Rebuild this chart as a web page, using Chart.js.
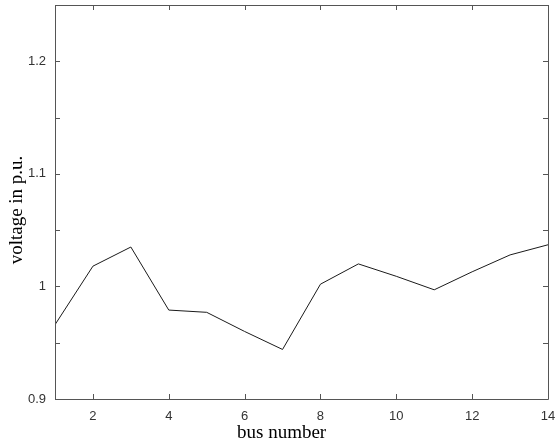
<!DOCTYPE html>
<html>
<head>
<meta charset="utf-8">
<script src="https://cdn.jsdelivr.net/npm/chart.js@4/dist/chart.umd.min.js"></script>
<style>
  html, body { margin: 0; padding: 0; background: #ffffff; }
  #wrap { width: 555px; height: 446px; }
</style>
</head>
<body>
<div id="wrap"><canvas id="voltChart" width="555" height="446"></canvas></div>
<script>
// Data
const busNumbers = [1, 2, 3, 4, 5, 6, 7, 8, 9, 10, 11, 12, 13, 14];
const voltages = [0.966, 1.018, 1.035, 0.979, 0.977, 0.960, 0.944, 1.002, 1.020, 1.009, 0.997, 1.013, 1.028, 1.037];

// Axis ticks
const xTickValues = [2, 4, 6, 8, 10, 12, 14];
const yTickValues = [0.9, 0.95, 1.0, 1.05, 1.1, 1.15, 1.2, 1.25];
const yTickLabels = ['0.9', '', '1', '', '1.1', '', '1.2', ''];

const xTitle = 'bus number';
const yTitle = 'voltage in p.u.';

const frameColor = '#555555';
const tickLen = 5;

// Draws the box, inward tick marks on all four sides and the axis titles
const matlabAxes = {
    id: 'matlabAxes',
    afterDraw(chart) {
        const ctx = chart.ctx;
        const area = chart.chartArea;
        const xs = chart.scales.x;
        const ys = chart.scales.y;
        ctx.save();
        ctx.strokeStyle = frameColor;
        ctx.lineWidth = 1;
        ctx.beginPath();
        ctx.rect(Math.round(area.left) + 0.5, Math.round(area.top) + 0.5,
                 Math.round(area.right - area.left), Math.round(area.bottom - area.top));
        xTickValues.forEach(v => {
            const px = Math.round(xs.getPixelForValue(v)) + 0.5;
            ctx.moveTo(px, area.bottom);
            ctx.lineTo(px, area.bottom - tickLen);
            ctx.moveTo(px, area.top);
            ctx.lineTo(px, area.top + tickLen);
        });
        yTickValues.forEach(v => {
            const py = Math.round(ys.getPixelForValue(v)) + 0.5;
            ctx.moveTo(area.left, py);
            ctx.lineTo(area.left + tickLen, py);
            ctx.moveTo(area.right, py);
            ctx.lineTo(area.right - tickLen, py);
        });
        ctx.stroke();

        // axis titles
        ctx.fillStyle = '#000000';
        ctx.font = '19px "Liberation Serif", "Times New Roman", serif';
        ctx.textAlign = 'left';
        ctx.textBaseline = 'alphabetic';
        ctx.fillText(xTitle, 237, 437.5);

        ctx.translate(22, 210);
        ctx.rotate(-Math.PI / 2);
        ctx.textAlign = 'center';
        ctx.fillText(yTitle, 0, 0);
        ctx.restore();
    }
};

const ctx = document.getElementById('voltChart').getContext('2d');

const voltChart = new Chart(ctx, {
    type: 'line',
    data: {
        datasets: [{
            label: 'voltage',
            data: busNumbers.map((b, i) => ({ x: b, y: voltages[i] })),
            borderColor: '#1a1a1a',
            borderWidth: 1,
            pointRadius: 0,
            tension: 0,
            fill: false
        }]
    },
    options: {
        responsive: false,
        animation: false,
        layout: { padding: { top: 5, right: 7, left: 0, bottom: 0 } },
        scales: {
            x: {
                type: 'linear',
                min: 1,
                max: 14,
                grid: { display: false, drawTicks: false },
                border: { display: false },
                afterBuildTicks: scale => { scale.ticks = xTickValues.map(v => ({ value: v })); },
                afterFit: scale => {
                    scale.height = 47;
                    scale.paddingLeft = 0;
                    scale.paddingRight = 0;
                },
                ticks: {
                    color: '#333333',
                    padding: 10,
                    maxRotation: 0,
                    autoSkip: false,
                    font: { family: '"Liberation Sans", Arial, sans-serif', size: 13 },
                    callback: v => String(v)
                }
            },
            y: {
                type: 'linear',
                min: 0.9,
                max: 1.25,
                grid: { display: false, drawTicks: false },
                border: { display: false },
                afterBuildTicks: scale => { scale.ticks = yTickValues.map(v => ({ value: v })); },
                afterFit: scale => {
                    scale.width = 55;
                    scale.paddingTop = 0;
                    scale.paddingBottom = 0;
                },
                ticks: {
                    color: '#333333',
                    padding: 9,
                    autoSkip: false,
                    font: { family: '"Liberation Sans", Arial, sans-serif', size: 13 },
                    callback: (v, i) => yTickLabels[i]
                }
            }
        },
        plugins: {
            legend: { display: false },
            tooltip: { enabled: false }
        }
    },
    plugins: [matlabAxes]
});
</script>
</body>
</html>
